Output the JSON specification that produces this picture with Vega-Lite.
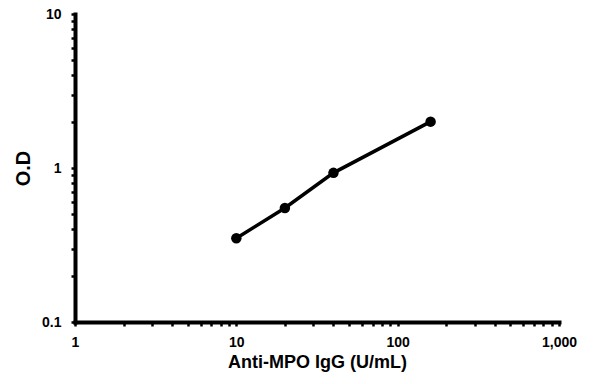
{
  "$schema": "https://vega.github.io/schema/vega-lite/v6.json",
  "width": 484,
  "height": 308,
  "autosize": {"type": "none"},
  "padding": {"left": 75, "top": 14, "right": 36, "bottom": 62},
  "background": "white",
  "config": {
    "view": {"stroke": null},
    "font": "Liberation Sans",
    "axis": {"domainWidth": 4, "domainColor": "black", "domainCap": "square"}
  },
  "data": {
    "values": [
      {"conc": 10, "od": 0.35},
      {"conc": 20, "od": 0.55},
      {"conc": 40, "od": 0.93},
      {"conc": 160, "od": 2.0}
    ]
  },
  "encoding": {
    "x": {
      "field": "conc",
      "type": "quantitative",
      "scale": {"type": "log", "domain": [1, 1000], "nice": false},
      "axis": {
        "title": "Anti-MPO IgG (U/mL)",
        "values": [1,2,3,4,5,6,7,8,9,10,20,30,40,50,60,70,80,90,100,200,300,400,500,600,700,800,900,1000],
        "labelExpr": "indexof([1,10,100,1000], datum.value) >= 0 ? format(datum.value, ',') : ''",
        "grid": false,
        "domainColor": "black",
        "domainWidth": 4,
        "tickColor": "black",
        "tickWidth": 2.5,
        "tickSize": 4,
        "labelFont": "Liberation Sans",
        "labelFontWeight": "bold",
        "labelFontSize": 14,
        "labelColor": "black",
        "labelPadding": 9,
        "labelOverlap": false,
        "labelFlush": false,
        "titleFont": "Liberation Sans",
        "titleFontWeight": "bold",
        "titleFontSize": 18,
        "titleColor": "black",
        "titlePadding": 4
      }
    },
    "y": {
      "field": "od",
      "type": "quantitative",
      "scale": {"type": "log", "domain": [0.1, 10], "nice": false},
      "axis": {
        "title": "O.D",
        "values": [0.1,0.2,0.3,0.4,0.5,0.6,0.7,0.8,0.9,1,2,3,4,5,6,7,8,9,10],
        "labelExpr": "datum.value == 0.1 ? '0.1' : datum.value == 1 ? '1' : datum.value == 10 ? '10' : ''",
        "grid": false,
        "domainColor": "black",
        "domainWidth": 4,
        "tickColor": "black",
        "tickWidth": 2.5,
        "tickSize": 4,
        "labelFont": "Liberation Sans",
        "labelFontWeight": "bold",
        "labelFontSize": 14,
        "labelColor": "black",
        "labelPadding": 10,
        "labelOverlap": false,
        "labelFlush": false,
        "titleFont": "Liberation Sans",
        "titleFontWeight": "bold",
        "titleFontSize": 20,
        "titleColor": "black",
        "titlePadding": 8
      }
    }
  },
  "layer": [
    {
      "mark": {"type": "line", "color": "black", "strokeWidth": 3.5, "interpolate": "linear"}
    },
    {
      "mark": {"type": "circle", "color": "black", "opacity": 1, "size": 110}
    }
  ]
}
